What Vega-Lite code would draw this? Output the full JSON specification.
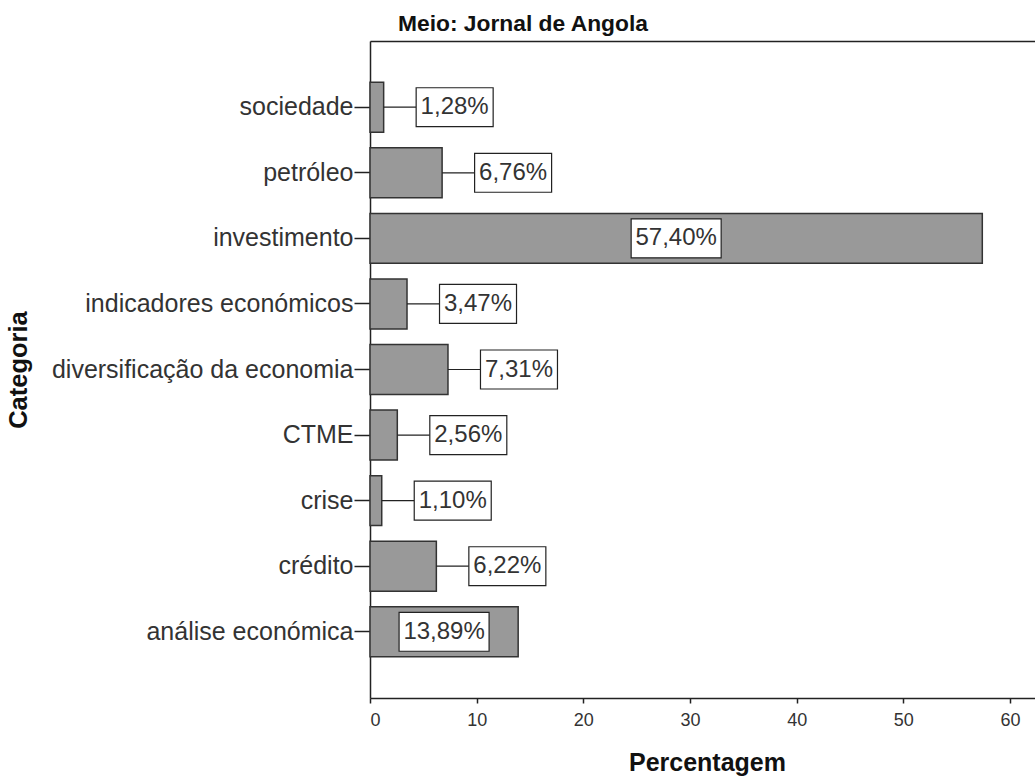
{
  "$schema": "https://vega.github.io/schema/vega-lite/v6.json",
  "autosize": {"type": "none"},
  "width": 665,
  "height": 657,
  "padding": {"left": 370, "top": 41, "right": 0, "bottom": 80},
  "background": "white",
  "title": {
    "text": "Meio: Jornal de Angola",
    "anchor": "start",
    "frame": "group",
    "dx": 28,
    "dy": 23,
    "fontSize": 22.8,
    "fontWeight": "bold",
    "font": "Liberation Sans",
    "color": "#111",
    "baseline": "alphabetic",
    "offset": 10
  },
  "data": {
    "values": [
      {"categoria": "sociedade", "value": 1.28, "label": "1,28%"},
      {"categoria": "petróleo", "value": 6.76, "label": "6,76%"},
      {"categoria": "investimento", "value": 57.40, "label": "57,40%"},
      {"categoria": "indicadores económicos", "value": 3.47, "label": "3,47%"},
      {"categoria": "diversificação da economia", "value": 7.31, "label": "7,31%"},
      {"categoria": "CTME", "value": 2.56, "label": "2,56%"},
      {"categoria": "crise", "value": 1.10, "label": "1,10%"},
      {"categoria": "crédito", "value": 6.22, "label": "6,22%"},
      {"categoria": "análise económica", "value": 13.89, "label": "13,89%"}
    ]
  },
  "encoding": {
    "y": {
      "field": "categoria",
      "type": "nominal",
      "sort": ["sociedade", "petróleo", "investimento", "indicadores económicos", "diversificação da economia", "CTME", "crise", "crédito", "análise económica"],
      "scale": {"paddingInner": 0.238, "paddingOuter": 0.629},
      "axis": {
        "title": "Categoria",
        "titleFont": "Liberation Sans",
        "titleFontSize": 25.5,
        "titleFontWeight": "bold",
        "titleColor": "#111",
        "titleAngle": 270,
        "titleBaseline": "alphabetic",
        "titleAlign": "center",
        "titleX": -344,
        "titleY": 328.5,
        "labelFont": "Liberation Sans",
        "labelFontSize": 25,
        "labelColor": "#333",
        "labelLimit": 0,
        "labelPadding": 1,
        "tickSize": 16,
        "tickColor": "#222",
        "tickWidth": 1.5,
        "domainColor": "#222",
        "domainWidth": 1.5
      }
    }
  },
  "resolve": {"axis": {"x": "independent"}},
  "layer": [
    {
      "mark": {"type": "bar", "fill": "#999999", "stroke": "#333333", "strokeWidth": 1.5},
      "encoding": {
        "x": {
          "field": "value",
          "type": "quantitative",
          "scale": {"domain": [0, 62.34], "nice": false, "zero": true},
          "axis": {
            "title": "Percentagem",
            "values": [0, 10, 20, 30, 40, 50, 60],
            "grid": false,
            "tickSize": 5,
            "tickColor": "#222",
            "tickWidth": 1.5,
            "domainColor": "#222",
            "domainWidth": 1.5,
            "labelFont": "Liberation Sans",
            "labelFontSize": 18,
            "labelColor": "#333",
            "labelPadding": 8.5,
            "titleFont": "Liberation Sans",
            "titleFontSize": 25,
            "titleFontWeight": "bold",
            "titleColor": "#111",
            "titleBaseline": "alphabetic",
            "titleX": 337,
            "titleY": 72.5
          }
        }
      }
    },
    {
      "transform": [{"filter": "datum.value < 10"}],
      "mark": {"type": "rule", "x2Offset": 32.5, "color": "#222", "strokeWidth": 1.2},
      "encoding": {
        "x": {"field": "value", "type": "quantitative", "axis": null},
        "x2": {"field": "value"}
      }
    },
    {
      "transform": [{"filter": "datum.value < 10"}],
      "mark": {"type": "point", "shape": "M-1,-0.506H1V0.506H-1Z", "size": 5929, "xOffset": 71, "filled": true, "fill": "white", "stroke": "#222", "strokeWidth": 1.2, "opacity": 1},
      "encoding": {
        "x": {"field": "value", "type": "quantitative", "axis": null}
      }
    },
    {
      "transform": [{"filter": "datum.value < 10"}],
      "mark": {"type": "text", "xOffset": 71, "font": "Liberation Sans", "fontSize": 24, "color": "#333", "align": "center", "baseline": "middle"},
      "encoding": {
        "x": {"field": "value", "type": "quantitative", "axis": null},
        "text": {"field": "label"}
      }
    },
    {
      "transform": [{"filter": "datum.value >= 10"}],
      "mark": {"type": "point", "shape": "M-1,-0.433H1V0.433H-1Z", "size": 8100, "filled": true, "fill": "white", "stroke": "#222", "strokeWidth": 1.2, "opacity": 1},
      "encoding": {
        "x": {"field": "value", "type": "quantitative", "stack": "zero", "bandPosition": 0.5, "axis": null}
      }
    },
    {
      "transform": [{"filter": "datum.value >= 10"}],
      "mark": {"type": "text", "font": "Liberation Sans", "fontSize": 24, "color": "#333", "align": "center", "baseline": "middle"},
      "encoding": {
        "x": {
          "field": "value", "type": "quantitative", "stack": "zero", "bandPosition": 0.5,
          "axis": {"orient": "top", "labels": false, "ticks": false, "title": null, "grid": false, "domainColor": "#222", "domainWidth": 1.5}
        },
        "text": {"field": "label"}
      }
    }
  ]
}
